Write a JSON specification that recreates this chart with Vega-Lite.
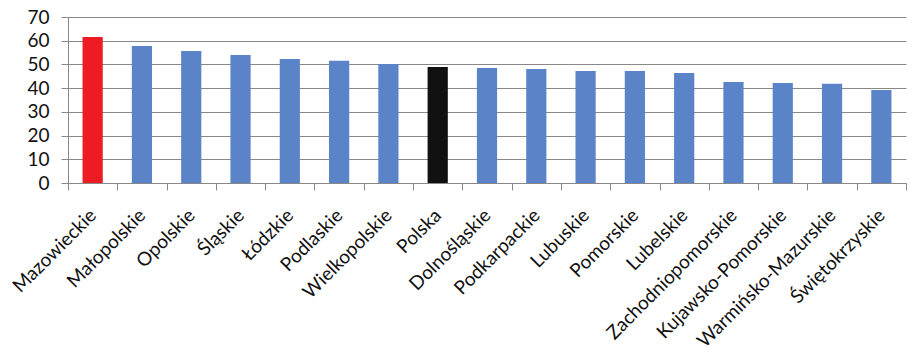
{
  "$schema": "https://vega.github.io/schema/vega-lite/v6.json",
  "autosize": "none",
  "width": 838,
  "height": 166,
  "padding": {"left": 68, "top": 17, "right": 17, "bottom": 172},
  "background": "white",
  "config": {"view": {"stroke": null}, "font": "Lato"},
  "data": {"values": [
    {"region": "Mazowieckie", "value": 61.6, "kind": "max"},
    {"region": "Małopolskie", "value": 57.8, "kind": "region"},
    {"region": "Opolskie", "value": 55.7, "kind": "region"},
    {"region": "Śląskie", "value": 54.0, "kind": "region"},
    {"region": "Łódzkie", "value": 52.3, "kind": "region"},
    {"region": "Podlaskie", "value": 51.5, "kind": "region"},
    {"region": "Wielkopolskie", "value": 50.2, "kind": "region"},
    {"region": "Polska", "value": 48.9, "kind": "country"},
    {"region": "Dolnośląskie", "value": 48.5, "kind": "region"},
    {"region": "Podkarpackie", "value": 48.1, "kind": "region"},
    {"region": "Lubuskie", "value": 47.2, "kind": "region"},
    {"region": "Pomorskie", "value": 47.2, "kind": "region"},
    {"region": "Lubelskie", "value": 46.4, "kind": "region"},
    {"region": "Zachodniopomorskie", "value": 42.6, "kind": "region"},
    {"region": "Kujawsko-Pomorskie", "value": 42.2, "kind": "region"},
    {"region": "Warmińsko-Mazurskie", "value": 41.8, "kind": "region"},
    {"region": "Świętokrzyskie", "value": 39.2, "kind": "region"}
  ]},
  "mark": {"type": "bar", "width": {"band": 0.41}},
  "encoding": {
    "x": {
      "field": "region", "type": "nominal", "sort": null,
      "scale": {"paddingInner": 0, "paddingOuter": 0},
      "axis": {
        "title": null, "labelAngle": -45, "labelAlign": "right", "labelBaseline": "middle",
        "labelFontSize": 19, "labelColor": "#111111", "labelPadding": 22,
        "tickBand": "extent", "tickSize": 7, "tickColor": "#888888",
        "domainColor": "#888888", "labelOverlap": false, "labelLimit": 300
      }
    },
    "y": {
      "field": "value", "type": "quantitative",
      "scale": {"domain": [0, 70], "nice": false},
      "axis": {
        "title": null, "values": [0, 10, 20, 30, 40, 50, 60, 70],
        "grid": true, "gridColor": "#888888", "gridWidth": 1,
        "domainColor": "#888888", "tickColor": "#888888", "tickSize": 7,
        "labelFontSize": 19, "labelColor": "#111111", "labelPadding": 12
      }
    },
    "color": {
      "field": "kind", "type": "nominal", "legend": null,
      "scale": {"domain": ["max", "region", "country"], "range": ["#ED1C24", "#5B84C8", "#111111"]}
    }
  }
}
